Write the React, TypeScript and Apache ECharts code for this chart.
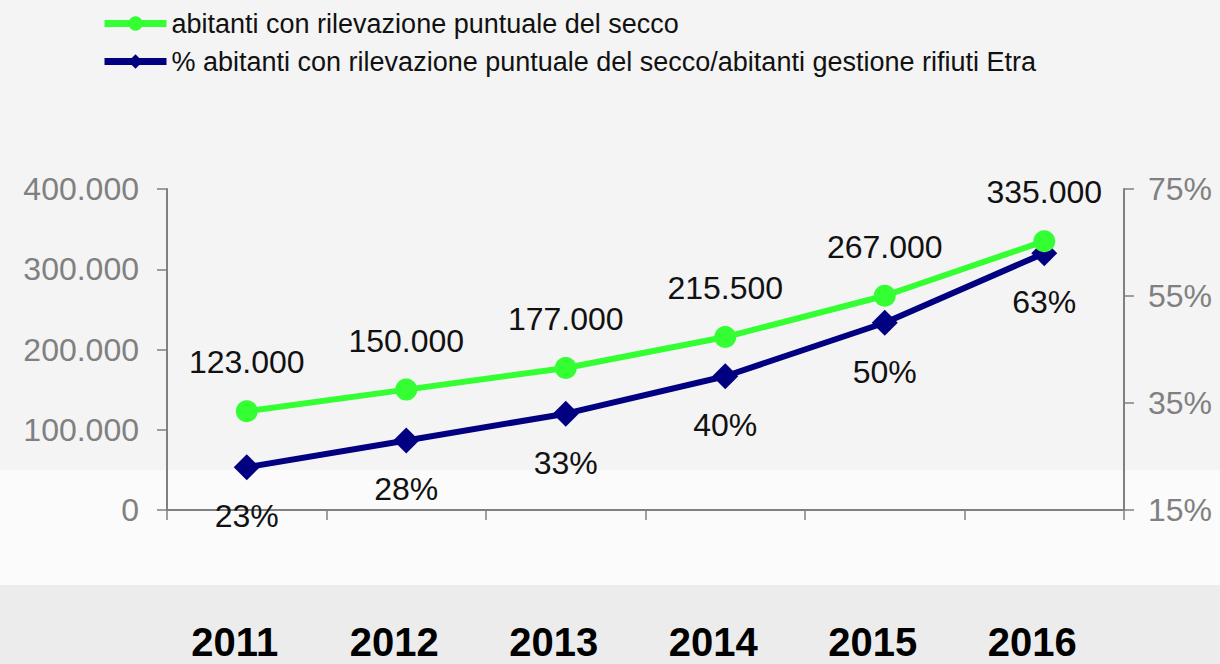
import React, { useEffect, useRef } from "react";
import * as echarts from "echarts";

const years = ["2011", "2012", "2013", "2014", "2015", "2016"];
const abitanti = [123000, 150000, 177000, 215500, 267000, 335000];
const percentuale = [23, 28, 33, 40, 50, 63];
const leftTicks = { min: 0, max: 400000, interval: 100000 };
const rightTicks = { min: 15, max: 75, interval: 20 };
const seriesNames = [
  "abitanti con rilevazione puntuale del secco",
  "% abitanti con rilevazione puntuale del secco/abitanti gestione rifiuti Etra",
];

const fmtThousands = (v: number) =>
  String(Math.round(v)).replace(/\B(?=(\d{3})+(?!\d))/g, ".");

const FONT = "'Liberation Sans', Arial, sans-serif";

export default function App() {
  const ref = useRef<HTMLDivElement>(null);
  useEffect(() => {
    if (!ref.current) return;
    const chart = echarts.init(ref.current, null, { renderer: "svg" });
    chart.setOption({
      animation: false,
      backgroundColor: "#f4f4f4",
      graphic: [
        { type: "rect", z: -10, shape: { x: 0, y: 470, width: 1220, height: 115 }, style: { fill: "#fbfbfb" } },
        { type: "rect", z: -10, shape: { x: 0, y: 585, width: 1220, height: 79 }, style: { fill: "#ececec" } },
      ],
      legend: {
        orient: "vertical",
        left: 96,
        top: 5,
        itemWidth: 62,
        itemHeight: 18,
        itemGap: 11,
        lineStyle: { width: 7 },
        textStyle: { fontFamily: FONT, fontSize: 27, color: "#111" },
        data: seriesNames,
      },
      grid: { left: 167, right: 96, top: 189, bottom: 154, outerBoundsMode: "none", containLabel: false },
      xAxis: {
        type: "category",
        data: years,
        boundaryGap: true,
        axisLine: { lineStyle: { color: "#808080", width: 2 } },
        axisTick: { show: true, length: 10, lineStyle: { color: "#808080", width: 1.5 } },
        axisLabel: {
          margin: 112,
          padding: [0, 24, 0, 0],
          fontFamily: FONT,
          fontWeight: "bold",
          fontSize: 40,
          color: "#000",
        },
        splitLine: { show: false },
      },
      yAxis: [
        {
          type: "value",
          ...leftTicks,
          position: "left",
          axisLine: { show: true, lineStyle: { color: "#808080", width: 2 } },
          axisTick: { show: true, length: 10, lineStyle: { color: "#808080", width: 1.5 } },
          axisLabel: {
            margin: 28,
            fontFamily: FONT,
            fontSize: 32,
            color: "#808080",
            formatter: (v: number) => fmtThousands(v),
          },
          splitLine: { show: false },
        },
        {
          type: "value",
          ...rightTicks,
          position: "right",
          axisLine: { show: true, lineStyle: { color: "#808080", width: 2 } },
          axisTick: { show: true, length: 10, lineStyle: { color: "#808080", width: 1.5 } },
          axisLabel: {
            margin: 24,
            fontFamily: FONT,
            fontSize: 32,
            color: "#808080",
            formatter: (v: number) => v + "%",
          },
          splitLine: { show: false },
        },
      ],
      series: [
        {
          name: seriesNames[0],
          type: "line",
          yAxisIndex: 0,
          data: abitanti,
          symbol: "circle",
          symbolSize: 22,
          lineStyle: { color: "#33ff33", width: 6 },
          itemStyle: { color: "#33ff33" },
          label: {
            show: true,
            position: "top",
            distance: 22,
            fontFamily: FONT,
            fontSize: 32,
            color: "#111",
            formatter: (p: any) => fmtThousands(p.value),
          },
          z: 3,
        },
        {
          name: seriesNames[1],
          type: "line",
          yAxisIndex: 1,
          data: percentuale,
          symbol: "diamond",
          symbolSize: 26,
          lineStyle: { color: "#000080", width: 6 },
          itemStyle: { color: "#000080" },
          label: {
            show: true,
            position: "bottom",
            distance: 20,
            fontFamily: FONT,
            fontSize: 32,
            color: "#111",
            formatter: (p: any) => p.value + "%",
          },
          z: 2,
        },
      ],
    });
    return () => chart.dispose();
  }, []);
  return (
    <div
      ref={ref}
      style={{ position: "fixed", left: 0, top: 0, width: 1220, height: 664 }}
    />
  );
}
